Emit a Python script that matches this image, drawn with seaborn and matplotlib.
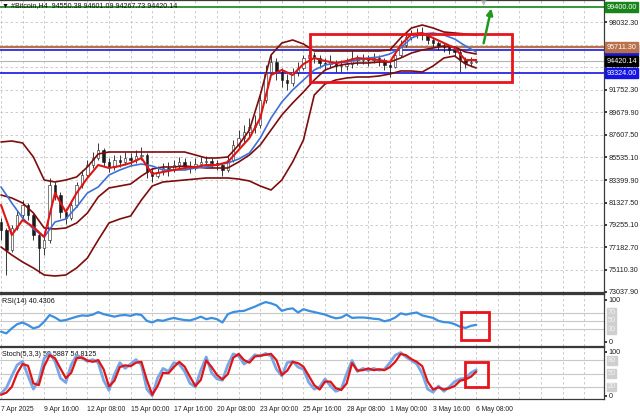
import matplotlib
matplotlib.use("Agg")
import matplotlib.pyplot as plt
import matplotlib.transforms as mtrans
import seaborn as sns

sns.set_theme(style="white")
plt.rcParams['font.family'] = ['Liberation Sans', 'DejaVu Sans']
plt.rcParams['font.size'] = 5.2

# --- Data (H4 bars, bar 0 = 7 Apr 2025 00:00) ---
candle_bar = list(range(0, 177, 2))
close = [78782, 76929, 78967, 80171, 81098, 80171, 78319, 77114, 77855, 82951,
         82024, 80449, 79893, 81098, 82951, 83877, 84803, 85452, 86193, 85081,
         84618, 85267, 85081, 85452, 85267, 85637, 85730, 84155, 83784, 84155,
         84525, 84340, 84803, 85081, 84711, 84525, 84896, 85081, 85174, 84989,
         84803, 84340, 85267, 86656, 87305, 87861, 88324, 88509, 90825, 93419,
         94345, 93419, 92678, 92400, 93419, 93789, 94716, 94994, 94716, 94253,
         94160, 94345, 93975, 93975, 94160, 94716, 94531, 94623, 94531, 94716,
         94531, 94067, 93882, 94994, 95920, 96661, 96847, 97032, 96847, 96383,
         96105, 95828, 95735, 95457, 95272, 94531, 94253, 94345, 94420.14]
high = [79893, 78967, 79245, 80635, 81561, 81283, 80357, 78597, 78319, 83599,
        83229, 82302, 80820, 81561, 83229, 84340, 85267, 86008, 86842, 86378,
        85452, 85730, 85730, 86008, 85915, 86193, 86471, 85915, 84525, 84711,
        84989, 85081, 85267, 85545, 85452, 85174, 85452, 85545, 85637, 85452,
        85267, 84989, 85730, 87119, 88046, 88509, 89157, 89436, 91288, 94067,
        94994, 94716, 93789, 93234, 93789, 94345, 94994, 95642, 95272, 94994,
        94716, 94994, 94531, 94531, 94716, 95457, 94994, 95086, 94994, 95179,
        94994, 94716, 94531, 95457, 96383, 97125, 97310, 97495, 97588, 97032,
        96569, 96291, 96105, 95920, 95735, 95457, 94809, 94809, 94601.09]
low = [77855, 74613, 76744, 78782, 79893, 79708, 77855, 74798, 76466, 77578,
       81561, 79893, 79338, 79708, 80913, 82673, 83599, 84525, 85267, 84711,
       84155, 84340, 84618, 84803, 84711, 84989, 85267, 83599, 83229, 83599,
       83877, 83784, 84155, 84525, 84340, 84062, 84340, 84618, 84711, 84525,
       84340, 83784, 84155, 85081, 86378, 86934, 87398, 87768, 88231, 90547,
       93141, 92678, 92029, 91751, 92122, 93048, 93604, 94345, 94253, 93789,
       93604, 93789, 93419, 93419, 93604, 93789, 94067, 94160, 93975, 94253,
       93975, 93604, 92956, 93789, 94809, 95735, 96383, 96569, 96383, 96013,
       95735, 95457, 95272, 95086, 94901, 93419, 93789, 93975, 94267.73]

ind_bar = list(range(0, 177, 4))
ma_fast = [81098, 78319, 79708, 79060, 78134, 82210, 80449, 82210, 83599, 84803,
           84525, 84711, 84989, 85452, 83970, 84155, 84340, 84525, 84618, 84803,
           84803, 85081, 86193, 87305, 89157, 93141, 93604, 93141, 94160, 94716,
           94438, 94253, 94438, 94716, 94623, 94531, 94345, 95920, 96939, 97032,
           96569, 96105, 95642, 94531, 94531]
ma_slow = [82765, 81283, 79893, 78874, 78134, 79523, 79801, 80913, 82210, 82765,
           83877, 84340, 84711, 84896, 84711, 84340, 84340, 84340, 84525, 84618,
           84803, 84989, 85359, 85915, 87305, 89157, 90640, 91751, 92678, 93604,
           94067, 94253, 94345, 94531, 94716, 94809, 95086, 95642, 96569, 96939,
           97032, 96847, 96476, 95828, 95272]
bb_upper = [86934, 87027, 86842, 85545, 83414, 83229, 83414, 83692, 84618, 85823,
            86008, 86008, 86008, 86008, 86008, 86008, 86008, 86008, 85730, 85452,
            85452, 85545, 86656, 88046, 91288, 94994, 96105, 96383, 96013, 95364,
            95364, 95364, 95364, 95364, 95364, 95364, 95457, 96569, 97495, 97773,
            97495, 97125, 97032, 96939, 96847]
bb_middle = [82024, 81746, 81283, 80357, 78967, 78874, 78967, 79431, 80357, 81839,
             82673, 82858, 83043, 83784, 84433, 84618, 84618, 84711, 84618, 84525,
             84525, 84525, 85081, 85730, 86656, 88046, 89436, 90547, 91566, 92678,
             93604, 93975, 94160, 94253, 94253, 94345, 94345, 94716, 95179, 95457,
             95642, 95828, 95735, 95272, 95086]
bb_lower = [77207, 76466, 75817, 75262, 74613, 74520, 74613, 75262, 76188, 77855,
            79431, 79801, 80079, 81561, 82858, 83229, 83321, 83414, 83506, 83599,
            83599, 83599, 83506, 83321, 82858, 82487, 83414, 85081, 87119, 91288,
            92307, 92678, 92863, 92956, 92956, 93048, 93234, 93512, 93512, 93419,
            93975, 94716, 94901, 94160, 93789]

osc_bar = list(range(0, 177, 2))
rsi = [24, 20, 32, 42, 46, 40, 32, 36, 48, 64, 58, 50, 52, 56, 60, 63, 62, 65, 71, 66,
       63, 60, 63, 64, 62, 66, 64, 50, 46, 52, 50, 54, 57, 54, 52, 51, 55, 60, 54, 57,
       54, 46, 66, 71, 73, 74, 79, 84, 90, 95, 92, 87, 74, 78, 80, 70, 78, 74, 71, 68,
       65, 60, 56, 58, 65, 57, 58, 58, 57, 55, 54, 49, 52, 58, 68, 65, 68, 70, 63, 60,
       57, 50, 47, 46, 42, 36, 33, 38, 40.43]
stoch_main = [5, 18, 45, 70, 78, 45, 15, 35, 85, 97, 78, 40, 30, 70, 92, 85, 78, 82, 75, 35,
              12, 48, 75, 62, 72, 82, 70, 15, 0, 40, 62, 55, 75, 72, 55, 28, 20, 58, 88, 52,
              38, 35, 70, 95, 90, 72, 80, 93, 90, 96, 90, 60, 45, 75, 78, 65, 60, 30, 15, 20,
              38, 22, 10, 15, 50, 80, 55, 62, 57, 62, 58, 60, 75, 92, 98, 88, 80, 72, 50, 15,
              8, 22, 10, 20, 32, 38, 40, 52, 58.59]
stoch_signal = [2, 7, 20, 51, 72, 68, 28, 24, 67, 92, 85, 62, 40, 52, 85, 87, 80, 77, 81, 60,
                21, 34, 65, 69, 67, 75, 77, 36, 2, 22, 52, 51, 65, 77, 66, 43, 22, 36, 80, 65,
                47, 37, 49, 86, 95, 81, 75, 89, 91, 93, 95, 81, 47, 57, 77, 74, 66, 45, 24, 14,
                32, 32, 17, 13, 28, 74, 57, 58, 62, 58, 60, 58, 65, 77, 95, 92, 83, 77, 67, 32,
                14, 19, 14, 17, 22, 34, 37, 43, 54.81]

time_ticks = list(range(0, 177, 16))
time_labels = ["7 Apr 2025", "9 Apr 16:00", "12 Apr 08:00", "15 Apr 00:00",
               "17 Apr 16:00", "20 Apr 08:00", "23 Apr 00:00", "25 Apr 16:00",
               "28 Apr 08:00", "1 May 00:00", "3 May 16:00", "6 May 08:00"]

price_ticks = [73037.90, 75110.30, 77182.70, 79255.10, 81327.50, 83399.90, 85535.10,
               87607.50, 89679.90, 91752.30, 93887.50, 95959.90, 98032.30]
price_labels = ["73037.90", "75110.30", "77182.70", "79255.10", "81327.50", "83399.90",
                "85535.10", "87607.50", "89679.90", "91752.30", "93887.50", "", "98032.30"]

# horizontal levels drawn on the chart
level_values = [99400.00, 95457.79, 95711.30, 94420.14, 93324.00]
level_colors = ["#17851a", "#1a1ad0", "#b9714c", "#b4b4b4", "#1414e6"]
level_widths = [1.2, 1.2, 1.6, 0.8, 1.2]
label_bg = ["#17851a", "#1a1ad0", "#b9714c", "#000000", "#1414e6"]

# annotation boxes (bar index / value)
box_main = (114.4, 189.3, 92490, 96940)
box_rsi = (170.4, 180.7, 4, 71)
box_stoch = (171.9, 180.4, 20, 77)
arrow_from = (178.5, 95830)
arrow_to = (181.8, 99560)
shift_marker_bar = 178.6

# --- Figure ---
fig = plt.figure(figsize=(6.4, 4.16), dpi=100)
W = 0.94375
ax = fig.add_axes([0, 0.2945, W, 0.7055])
ax_rsi = fig.add_axes([0, 0.1683, W, 0.1238])
ax_st = fig.add_axes([0, 0.0397, W, 0.1262])

xlim = (-0.37, 223.3)
grid_kw = dict(color="#c4c4c4", linestyle=(0, (3, 3)), linewidth=0.6)

for a in (ax, ax_rsi, ax_st):
    a.set_xlim(*xlim)
    a.set_facecolor("white")
    a.set_xticks(time_ticks)
    a.set_xticks(list(range(0, 224, 8)), minor=True)
    a.grid(True, which="both", axis="x", **grid_kw)
    a.yaxis.tick_right()
    a.tick_params(axis="y", labelsize=5.2, length=2, pad=1.5, colors="#202020")
    a.tick_params(axis="x", which="both", length=0, labelbottom=False)
    a.spines["left"].set_visible(False)
    for s in ("top", "bottom", "right"):
        a.spines[s].set_color("#3a3a3a")
        a.spines[s].set_linewidth(0.9)
    a.set_axisbelow(True)

# main panel
ax.set_ylim(72899, 100089)
ax.set_yticks(price_ticks)
ax.set_yticklabels(price_labels)
ax.grid(True, which="major", axis="y", **grid_kw)
ax.spines["bottom"].set_linewidth(1.6)

# candles
opens = [79500] + close[:-1]
ax.vlines(candle_bar, low, high, color="#1a1a1a", linewidth=0.6, zorder=3)
heights = [c - o if abs(c - o) > 60 else 60 for o, c in zip(opens, close)]
body_col = ["white" if c >= o else "#1a1a1a" for o, c in zip(opens, close)]
ax.bar(candle_bar, heights, bottom=opens, width=0.9, color=body_col,
       edgecolor="#1a1a1a", linewidth=0.4, zorder=3)

band_col = "#7d0c0c"
for band in (bb_upper, bb_middle, bb_lower):
    sns.lineplot(x=ind_bar, y=band, ax=ax, color=band_col, linewidth=1.2, zorder=4)
sns.lineplot(x=ind_bar, y=ma_slow, ax=ax, color="#3f6fd6", linewidth=1.2, zorder=5)
sns.lineplot(x=ind_bar, y=ma_fast, ax=ax, color="#e01414", linewidth=1.5, zorder=6)

for v, c, lw in zip(level_values, level_colors, level_widths):
    ax.axhline(v, color=c, linewidth=lw, zorder=2.6)

ytr = mtrans.blended_transform_factory(ax.transAxes, ax.transData)
for i, (v, bg) in enumerate(zip(level_values, label_bg)):
    ax.text(1.004, v, f"{v:.2f}", transform=ytr, ha="left", va="center",
            fontsize=5.2, color="white", clip_on=False, zorder=20 + i,
            bbox=dict(boxstyle="square,pad=0.2", fc=bg, ec=bg))

x0, x1, y0, y1 = box_main
ax.add_patch(plt.Rectangle((x0, y0), x1 - x0, y1 - y0, fill=False,
                           edgecolor="#e8141c", linewidth=2, zorder=8))
ax.annotate("", xy=arrow_to, xytext=arrow_from, zorder=9,
            arrowprops=dict(arrowstyle="-|>", color="#1f9a1f", lw=1.8,
                            mutation_scale=9))
xtr = mtrans.blended_transform_factory(ax.transData, ax.transAxes)
ax.text(shift_marker_bar, 1.0, "\u25bc", transform=xtr, ha="center", va="top",
        fontsize=5, color="#b8b8b8", family="DejaVu Sans", zorder=9)
ax.text(0.004, 0.992, "\u25bc #Bitcoin,H4  94550.38 94601.09 94267.73 94420.14",
        transform=ax.transAxes, ha="left", va="top", fontsize=5.1, color="#111111")

# RSI panel
ax_rsi.set_ylim(-10.3, 113.2)
ax_rsi.set_yticks([0, 100])
ax_rsi.set_yticklabels(["0", "100"])
for lvl in (70, 50, 30):
    ax_rsi.axhline(lvl, color="#c8c8c8", linewidth=0.8, zorder=1)
sns.lineplot(x=osc_bar, y=rsi, ax=ax_rsi, color="#3d8fe0", linewidth=1.6, zorder=4)
ax_rsi.text(0.004, 0.93, "RSI(14) 40.4306", transform=ax_rsi.transAxes,
            ha="left", va="top", fontsize=5.1, color="#111111")
x0, x1, y0, y1 = box_rsi
ax_rsi.add_patch(plt.Rectangle((x0, y0), x1 - x0, y1 - y0, fill=False,
                               edgecolor="#e8141c", linewidth=2, zorder=8))

# Stochastic panel
ax_st.set_ylim(-8.6, 110.7)
ax_st.set_yticks([0, 100])
ax_st.set_yticklabels(["0", "100"])
for lvl in (80, 50, 20):
    ax_st.axhline(lvl, color="#c8c8c8", linewidth=0.8, zorder=1)
sns.lineplot(x=osc_bar, y=stoch_main, ax=ax_st, color="#78a6e6", linewidth=2.0, zorder=4)
sns.lineplot(x=osc_bar, y=stoch_signal, ax=ax_st, color="#e01414", linewidth=1.6, zorder=5)
ax_st.text(0.004, 0.93, "Stoch(5,3,3) 58.5887 54.8125", transform=ax_st.transAxes,
           ha="left", va="top", fontsize=5.1, color="#111111")
x0, x1, y0, y1 = box_stoch
ax_st.add_patch(plt.Rectangle((x0, y0), x1 - x0, y1 - y0, fill=False,
                              edgecolor="#e8141c", linewidth=2, zorder=8))

for a, lv in ((ax_rsi, (70, 50, 30)), (ax_st, (80, 50, 20))):
    tr = mtrans.blended_transform_factory(a.transAxes, a.transData)
    for v in lv:
        a.text(1.006, v, str(v), transform=tr, ha="left", va="center", fontsize=5.2,
               color="#f4f4f4", clip_on=False, zorder=20,
               bbox=dict(boxstyle="square,pad=0.12", fc="#cfcfcf", ec="#cfcfcf"))

# time axis
ax_st.tick_params(axis="x", which="major", length=3, labelbottom=True,
                  labelsize=4.9, pad=2, colors="#202020")
ax_st.set_xticklabels(time_labels)
for lbl in ax_st.get_xticklabels():
    lbl.set_ha("left")

fig.savefig("out.png", dpi=100, facecolor="white")
